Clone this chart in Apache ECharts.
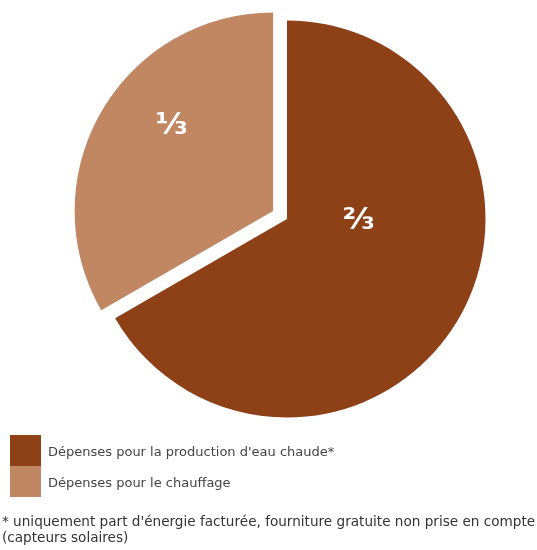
<!DOCTYPE html>
<html><head><meta charset="utf-8">
<script src="https://cdn.jsdelivr.net/npm/echarts@6/dist/echarts.min.js"></script>
<style>html,body{margin:0;padding:0;background:#fff}#c{width:537px;height:550px}</style>
</head><body><div id="c"></div>
<script>
var categories = ["Dépenses pour la production d'eau chaude*", "Dépenses pour le chauffage"];
var values = [2, 1];
var labels = ["⅔", "⅓"];
var colors = ["#8E4016", "#C08762"];
var footnote = "* uniquement part d'énergie facturée, fourniture gratuite non prise en compte\n(capteurs solaires)";

var chart = echarts.init(document.getElementById('c'));
chart.setOption({
  animation: false,
  title: {
    text: footnote, left: 0, top: 514, padding: [0, 0, 0, 2],
    textStyle: { fontFamily: 'DejaVu Sans', fontSize: 13.6, fontWeight: 'normal', color: '#333', lineHeight: 16 }
  },
  legend: {
    orient: 'vertical', left: 5, top: 430, itemWidth: 31, itemHeight: 31, itemGap: 0,
    icon: 'rect', selectedMode: false,
    formatter: function (n) { return '{t|' + n + '}'; },
    textStyle: { fontFamily: 'DejaVu Sans', fontSize: 13, color: '#444',
      rich: { t: { fontFamily: 'DejaVu Sans', fontSize: 13, color: '#444', padding: [5, 0, 0, 2] } } },
    data: categories
  },
  series: [{
    type: 'pie', center: [287, 219], radius: [0, 198.5], startAngle: 90, clockwise: true,
    selectedMode: 'multiple', selectedOffset: 16, silent: true,
    label: { show: true, position: 'inside', color: '#fff', fontFamily: 'DejaVu Sans', fontWeight: 'bold', fontSize: 31,
      formatter: function (p) { return labels[p.dataIndex]; } },
    labelLine: { show: false },
    labelLayout: function (p) { return p.dataIndex === 0 ? { dx: -17, dy: -49 } : { dx: -13, dy: -34 }; },
    data: categories.map(function (c, i) {
      return { name: c, value: values[i], selected: i === 1, itemStyle: { color: colors[i] } };
    })
  }]
});
</script></body></html>
